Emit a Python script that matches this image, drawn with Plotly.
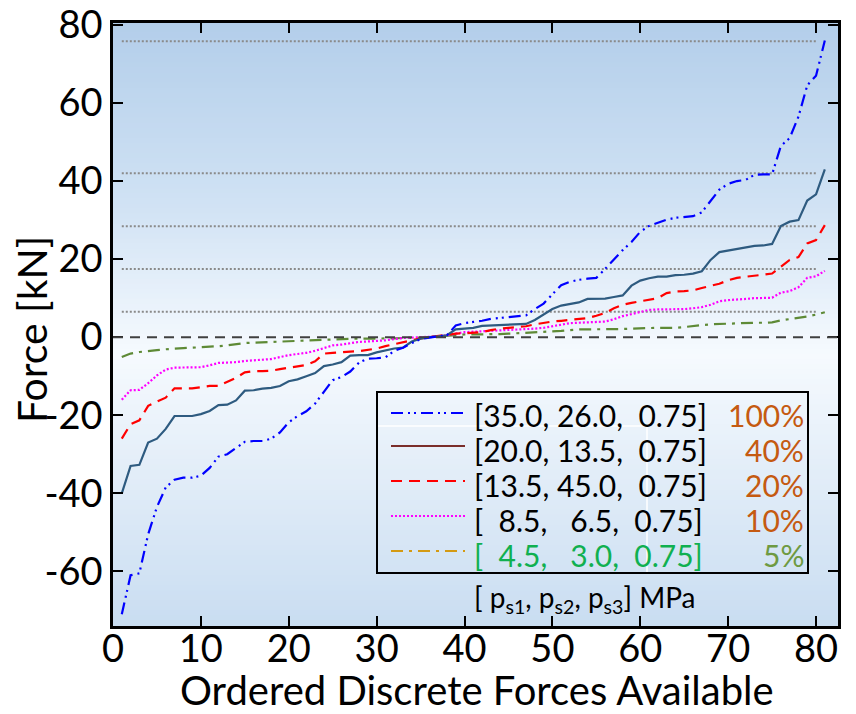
import plotly.graph_objects as go

# ---------------- data ----------------
x_idx = list(range(1, 82))

f_100 = [-71, -61, -60.5, -50.5, -43.5, -38.5, -36.5, -36, -36, -35.5,
         -33.5, -30.6, -30, -28.5, -26.8, -26.6, -26.6, -26, -24.4, -21.8,
         -20.2, -19, -17, -14, -11, -10.2, -8.8, -6.5, -5.5, -5.4,
         -5.2, -3.5, -2.7, -1.5, -0.5, -0.1, 0.2, 0.5, 3.0, 3.6,
         3.9, 4.2, 4.7, 4.9, 5.1, 5.3, 5.6, 7.2, 8.6, 11,
         13.3, 14.2, 14.7, 15, 15.2, 17.5, 20, 22.3, 24.4, 27,
         28.5, 29.4, 30.1, 30.6, 30.8, 31, 32, 35, 37.8, 39.3,
         40, 40.3, 41.6, 41.7, 41.7, 49, 51, 56.5, 64.5, 67,
         76]
f_40 = [-40, -33, -32.7, -27, -26, -23.5, -20.2, -20.2, -20.2, -19.7,
        -18.9, -17.4, -17.3, -16.2, -13.7, -13.6, -13.2, -13.0, -12.5, -11.3,
        -10.8, -10, -9.2, -7.4, -7.0, -6.4, -4.7, -4.6, -4.6, -3.9,
        -3.4, -2.9, -2.7, -1.1, -0.4, 0, 0.2, 0.5, 2.0, 2.2,
        2.4, 2.9, 3.0, 3.1, 3.2, 3.3, 3.4, 4.4, 5.8, 7.2,
        8.1, 8.5, 8.9, 9.8, 9.9, 9.9, 10.3, 10.7, 13.2, 14.5,
        15.1, 15.5, 15.5, 15.9, 16, 16.3, 16.9, 19.8, 21.8, 22.2,
        22.6, 23, 23.4, 23.5, 23.9, 28.5, 29.6, 30, 35, 36.6,
        43]
f_20 = [-26, -22.3, -21.3, -17.6, -16.5, -15.5, -13.1, -13.1, -13.1, -12.8,
        -12.5, -12.5, -11.5, -10.4, -9, -8.7, -8.7, -8.6, -8.2, -7.8,
        -7.5, -7.1, -6.2, -4.2, -4.0, -3.8, -3.7, -3.6, -3.3, -2.9,
        -2.3, -1.8, -1.3, -0.7, -0.3, 0, 0.3, 0.6, 0.9, 1.0,
        1.1, 1.3, 1.8, 2.2, 2.4, 2.6, 2.8, 3.3, 3.7, 4.0,
        4.2, 4.4, 4.6, 4.9, 5.5, 6.2, 7.4, 8.3, 8.8, 9.2,
        9.6, 10, 11.3, 11.7, 11.8, 12.0, 12.6, 13.1, 13.7, 14.6,
        15.2, 15.5, 15.7, 16.0, 16.3, 18, 19.8, 20.5, 24, 24.9,
        28.7]
f_10 = [-16, -13.6, -13.5, -11.8, -9.8, -8.3, -7.8, -7.8, -7.8, -7.7,
        -7.2, -6.6, -6.5, -6.4, -6.1, -5.9, -5.7, -5.6, -5.1, -4.6,
        -4.3, -4.0, -3.5, -2.8, -2.1, -1.9, -1.5, -1.2, -1.1, -1.0,
        -0.8, -0.5, -0.2, -0.1, 0, 0.1, 0.2, 0.5, 0.9, 1.3,
        1.4, 1.5, 1.6, 1.7, 1.9, 2.0, 2.1, 2.2, 2.4, 2.8,
        3.3, 3.6, 3.7, 3.8, 3.8, 4.0, 4.6, 5.4, 5.9, 6.4,
        7.0, 7.1, 7.1, 7.1, 7.2, 7.4, 7.7, 8.3, 9.2, 9.5,
        9.6, 9.8, 10.0, 10.0, 10.1, 11.4, 11.8, 12.8, 15.2, 15.6,
        17.0]
f_5 = [-5.1, -4.2, -3.8, -3.5, -3.3, -3.1, -2.9, -2.8, -2.7, -2.6,
       -2.4, -2.3, -2.1, -1.8, -1.5, -1.4, -1.3, -1.3, -1.2, -1.1,
       -1.0, -0.9, -0.8, -0.6, -0.5, -0.4, -0.4, -0.4, -0.4, -0.4,
       -0.3, -0.3, -0.2, -0.2, -0.1, 0, 0.2, 0.4, 0.6, 0.7,
       0.7, 0.7, 0.7, 0.8, 0.9, 1.0, 1.1, 1.2, 1.3, 1.4,
       1.6, 1.8, 2.0, 2.0, 2.0, 2.0, 2.0, 2.1, 2.2, 2.3,
       2.4, 2.4, 2.4, 2.4, 2.6, 2.9, 3.1, 3.3, 3.4, 3.5,
       3.6, 3.7, 3.7, 3.7, 3.8, 4.3, 4.6, 4.9, 5.3, 5.8,
       6.4]

ref_levels = [75.8, 42.0, 28.4, 17.5, 6.5]
ref_x = [1, 80]
zero_level = 0

legend_labels = ["[35.0, 26.0,  0.75]", "[20.0, 13.5,  0.75]", "[13.5, 45.0,  0.75]",
                 "[  8.5,   6.5,  0.75]", "[  4.5,   3.0,  0.75]"]
legend_pcts = ["100%", "40%", "20%", "10%", "5%"]

x_ticks = [0, 10, 20, 30, 40, 50, 60, 70, 80]
y_ticks = [-60, -40, -20, 0, 20, 40, 60, 80]
y_ticktext = ["-60", "-40", "-20", "0", "20", "40", "60", "80"]
x_range = [0, 82.5]
y_range = [-74, 80.5]
x_title = "Ordered Discrete Forces Available"
y_title = "Force [kN]"

# ---------------- styles ----------------
FONT = "Lato"
W, H = 856, 714
ML, MR, MT, MB = 113, 18, 23, 88
PW, PH = W - ML - MR, H - MT - MB


def pxx(p):
    return (p - ML) / PW


def pxy(p):
    return (H - MB - p) / PH


series = [
    (f_100, "#0000ff", "12px,5px,2px,4px,2px,5px"),
    (f_40, "#2e5b80", "solid"),
    (f_20, "#ff0000", "11px,7px"),
    (f_10, "#ff00ff", "2px,2px"),
    (f_5, "#5e8a36", "12px,6px,3px,6px"),
]
legend_line_colors = ["#0000ff", "#7a2e2a", "#ff0000", "#ff00ff", "#d49a12"]
text_colors = ["#000000", "#000000", "#000000", "#000000", "#10b050"]
pct_colors = ["#c55a11", "#c55a11", "#c55a11", "#c55a11", "#6e9a42"]

fig = go.Figure()

# reference dotted lines
for lv in ref_levels:
    fig.add_trace(go.Scatter(x=ref_x, y=[lv, lv], mode="lines",
                             line=dict(color="#8a8a8a", width=2, dash="2px,2px"),
                             showlegend=False, hoverinfo="skip"))

for vals, col, dash in reversed(series):
    fig.add_trace(go.Scatter(x=x_idx, y=vals, mode="lines",
                             line=dict(color=col, width=2.2, dash=dash),
                             showlegend=False))

shapes = []
# background gradient bands
stops = [(0.0, (179, 206, 234)), (0.3, (208, 226, 244)), (0.55, (246, 250, 254)),
         (0.75, (226, 237, 248)), (1.0, (201, 221, 241))]


def col_at(t):
    for (t0, c0), (t1, c1) in zip(stops[:-1], stops[1:]):
        if t0 <= t <= t1:
            f = (t - t0) / (t1 - t0) if t1 > t0 else 0
            return "rgb(%d,%d,%d)" % tuple(round(a + (b - a) * f) for a, b in zip(c0, c1))
    return "rgb(%d,%d,%d)" % stops[-1][1]


N = 120
for i in range(N):
    t = (i + 0.5) / N  # from top
    shapes.append(dict(type="rect", xref="paper", yref="paper", x0=0, x1=1,
                       y0=1 - (i + 1) / N - 0.001, y1=1 - i / N + 0.001,
                       fillcolor=col_at(t), line=dict(width=0), layer="below"))

# zero dashed line
shapes.append(dict(type="line", xref="paper", yref="y", x0=0, x1=1, y0=zero_level, y1=zero_level,
                   line=dict(color="#404040", width=2, dash="10px,7px"), layer="above"))

# legend box
lx0, lx1, ly0, ly1 = 377, 808, 392, 573
shapes.append(dict(type="rect", xref="paper", yref="paper", x0=pxx(lx0), x1=pxx(lx1),
                   y0=pxy(ly1), y1=pxy(ly0), line=dict(color="black", width=2),
                   fillcolor="rgba(0,0,0,0)", layer="above"))
# white artifact lines inside legend
shapes.append(dict(type="line", xref="paper", yref="paper", x0=pxx(lx0 + 1), x1=pxx(647),
                   y0=pxy(426), y1=pxy(426), line=dict(color="white", width=1.5), layer="above"))
shapes.append(dict(type="line", xref="paper", yref="paper", x0=pxx(647), x1=pxx(647),
                   y0=pxy(426), y1=pxy(572), line=dict(color="white", width=1.5), layer="above"))

annotations = []
row_y = [415, 450, 485, 520, 555]
line_y = [413, 446, 481, 516, 551]
for i in range(5):
    dash = series[i][2]
    shapes.append(dict(type="line", xref="paper", yref="paper", x0=pxx(391), x1=pxx(465),
                       y0=pxy(line_y[i]), y1=pxy(line_y[i]),
                       line=dict(color=legend_line_colors[i], width=2, dash=dash), layer="above"))
    annotations.append(dict(xref="paper", yref="paper", x=pxx(472), y=pxy(row_y[i]),
                            text=legend_labels[i], showarrow=False, xanchor="left", yanchor="middle",
                            font=dict(family=FONT, size=30, color=text_colors[i])))
    annotations.append(dict(xref="paper", yref="paper", x=pxx(806), y=pxy(row_y[i]),
                            text=legend_pcts[i], showarrow=False, xanchor="right", yanchor="middle",
                            font=dict(family=FONT, size=30, color=pct_colors[i])))

annotations.append(dict(xref="paper", yref="paper", x=pxx(472), y=pxy(599),
                        text="[ p<sub>s1</sub>, p<sub>s2</sub>, p<sub>s3</sub>] MPa",
                        showarrow=False, xanchor="left", yanchor="middle",
                        font=dict(family=FONT, size=28, color="black")))

# axis titles
annotations.append(dict(xref="paper", yref="paper", x=pxx(477), y=pxy(690),
                        text=x_title, showarrow=False, xanchor="center", yanchor="middle",
                        font=dict(family=FONT, size=40, color="black")))
annotations.append(dict(xref="paper", yref="paper", x=pxx(31), y=pxy(330),
                        text=y_title, showarrow=False, xanchor="center", yanchor="middle",
                        textangle=-90, font=dict(family=FONT, size=41, color="black")))

axis_common = dict(showline=True, linecolor="black", linewidth=2.5, mirror="ticks",
                   ticks="inside", ticklen=10, tickwidth=2, tickcolor="black",
                   showgrid=False, zeroline=False, automargin=False,
                   tickfont=dict(family=FONT, size=38, color="black"))

fig.update_layout(
    width=W, height=H,
    margin=dict(l=ML, r=MR, t=MT, b=MB, pad=0, autoexpand=False),
    paper_bgcolor="white", plot_bgcolor="white",
    shapes=shapes, annotations=annotations,
    xaxis=dict(range=x_range, tickvals=x_ticks, ticklabelstandoff=-12, **axis_common),
    yaxis=dict(range=y_range, tickvals=y_ticks, ticktext=y_ticktext, **axis_common),
    showlegend=False,
)

fig.write_html("out.html")
